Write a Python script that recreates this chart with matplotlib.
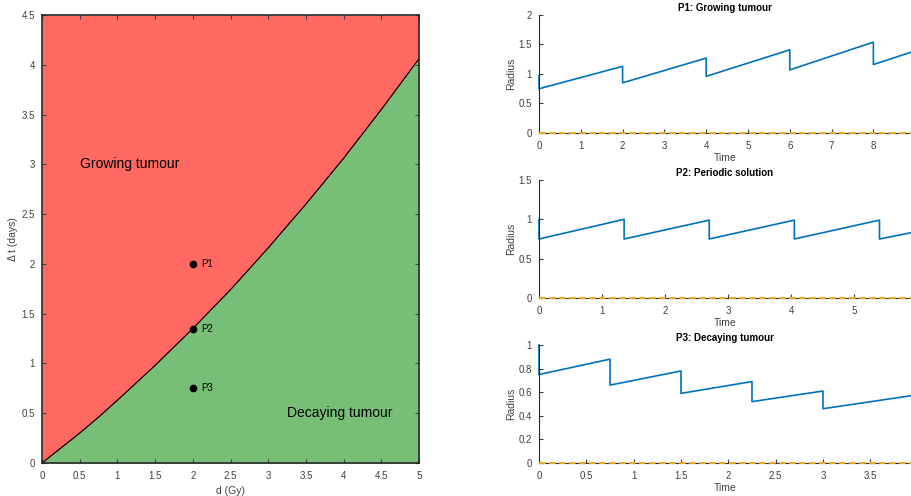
import matplotlib
matplotlib.use("Agg")
import matplotlib.pyplot as plt
import numpy as np

plt.rcParams['font.family'] = ['Liberation Sans', 'DejaVu Sans']

# Boundary curve (d in Gy, delta t in days)
d_vals = [0, 0.25, 0.5, 0.75, 1.0, 1.5, 2.0, 2.5, 3.0, 3.5, 4.0, 4.5, 5.0]
dt_vals = [0, 0.15, 0.30, 0.46, 0.63, 0.98, 1.35, 1.74, 2.16, 2.60, 3.06, 3.55, 4.06]

# Marked parameter points
pt_names = ['P1', 'P2', 'P3']
pt_d = [2, 2, 2]
pt_dt = [2.0, 1.35, 0.75]

# Radius time series (breakpoints)
p1_t = [0, 0, 2, 2, 4, 4, 6, 6, 8, 8, 8.9]
p1_r = [0.97, 0.75, 1.13, 0.85, 1.27, 0.96, 1.41, 1.07, 1.54, 1.16, 1.37]
p2_t = [0, 0, 1.35, 1.35, 2.7, 2.7, 4.05, 4.05, 5.4, 5.4, 5.9]
p2_r = [1.0, 0.75, 1.0, 0.75, 0.99, 0.75, 0.99, 0.75, 0.99, 0.75, 0.83]
p3_t = [0, 0, 0.75, 0.75, 1.5, 1.5, 2.25, 2.25, 3.0, 3.0, 3.93]
p3_r = [1.0, 0.75, 0.88, 0.66, 0.78, 0.59, 0.69, 0.52, 0.61, 0.46, 0.57]

titles = ['P1: Growing tumour', 'P2: Periodic solution', 'P3: Decaying tumour']
xlims = [8.9, 5.9, 3.93]
ylims = [2, 1.5, 1]
yticks_list = [[0, 0.5, 1, 1.5, 2], [0, 0.5, 1, 1.5], [0, 0.2, 0.4, 0.6, 0.8, 1]]
ytick_labels = [['0', '0.5', '1', '1.5', '2'], ['0', '0.5', '1', '1.5'],
                ['0', '0.2', '0.4', '0.6', '0.8', '1']]
xticks_list = [[0, 1, 2, 3, 4, 5, 6, 7, 8], [0, 1, 2, 3, 4, 5],
               [0, 0.5, 1, 1.5, 2, 2.5, 3, 3.5]]
xtick_labels = [['0', '1', '2', '3', '4', '5', '6', '7', '8'],
                ['0', '1', '2', '3', '4', '5'],
                ['0', '0.5', '1', '1.5', '2', '2.5', '3', '3.5']]

W, H = 911, 496
fig = plt.figure(figsize=(W / 100, H / 100), dpi=100)

tick_color = '#404040'
red = '#FF6961'
green = '#77BE76'

# ---------- Left phase diagram ----------
ax = fig.add_axes([42 / W, 1 - 463 / H, (419 - 42) / W, (463 - 15) / H])
d = np.array(d_vals)
dt = np.array(dt_vals)
ax.fill_between(d, dt, 4.5, color=red, linewidth=0)
ax.fill_between(d, 0, dt, color=green, linewidth=0)
ax.plot(d, dt, color='black', linewidth=0.9)
ax.plot(pt_d, pt_dt, 'o', color='black', markersize=4.5)
for n, x, y in zip(pt_names, pt_d, pt_dt):
    ax.text(x + 0.11, y, n, fontsize=7, va='center', ha='left')
ax.text(0.5, 3.0, 'Growing tumour', fontsize=10, va='center', ha='left')
ax.text(3.25, 0.5, 'Decaying tumour', fontsize=10, va='center', ha='left')
ax.set_xlim(0, 5)
ax.set_ylim(0, 4.5)
ax.set_xticks(np.arange(0, 5.01, 0.5))
ax.set_xticklabels(['0', '0.5', '1', '1.5', '2', '2.5', '3', '3.5', '4', '4.5', '5'])
ax.set_yticks(np.arange(0, 4.51, 0.5))
ax.set_yticklabels(['0', '0.5', '1', '1.5', '2', '2.5', '3', '3.5', '4', '4.5'])
ax.tick_params(direction='in', length=3, labelsize=7, colors=tick_color,
               labelcolor=tick_color, top=True, right=True)
ax.tick_params(axis='x', pad=6)
ax.tick_params(axis='y', pad=5)
for s in ax.spines.values():
    s.set_color('#262626')
    s.set_linewidth(1.2)
ax.set_xlabel('d (Gy)', fontsize=7.5, color=tick_color, labelpad=3)
ax.set_ylabel('\u0394 t (days)', fontsize=7.5, color=tick_color, labelpad=3)

# ---------- Right time series ----------
series = [(p1_t, p1_r), (p2_t, p2_r), (p3_t, p3_r)]
tops = [15, 180, 345]
bottoms = [133, 298, 463]
for i in range(3):
    a = fig.add_axes([539 / W, 1 - bottoms[i] / H, (W - 539) / W,
                      (bottoms[i] - tops[i]) / H])
    t, r = series[i]
    a.plot(t, r, color='#0072BD', linewidth=1.2, clip_on=False)
    a.plot([0, xlims[i]], [0, 0], color='#EDB120', linewidth=1.6,
           linestyle=(0, (3, 1.5)), zorder=3, clip_on=False)
    a.plot([0, xlims[i]], [0, 0], color='#555555', linewidth=0.4,
           linestyle=(0, (1, 3)), alpha=0.6, zorder=3, clip_on=False)
    a.set_xlim(0, xlims[i])
    a.set_ylim(0, ylims[i])
    a.set_xticks(xticks_list[i])
    a.set_xticklabels(xtick_labels[i])
    a.set_yticks(yticks_list[i])
    a.set_yticklabels(ytick_labels[i])
    a.spines['top'].set_visible(False)
    a.spines['right'].set_visible(False)
    for s in ['left', 'bottom']:
        a.spines[s].set_color('#262626')
        a.spines[s].set_linewidth(0.8)
    a.tick_params(direction='in', length=3, labelsize=7, colors=tick_color,
                  labelcolor=tick_color)
    a.tick_params(axis='x', pad=6)
    a.tick_params(axis='y', pad=5)
    a.set_title(titles[i], fontsize=7, fontweight='bold', pad=3)
    a.set_xlabel('Time', fontsize=7.5, color=tick_color, labelpad=1)
    a.set_ylabel('Radius', fontsize=7.5, color=tick_color, labelpad=2)

fig.savefig('out.png', dpi=100)
